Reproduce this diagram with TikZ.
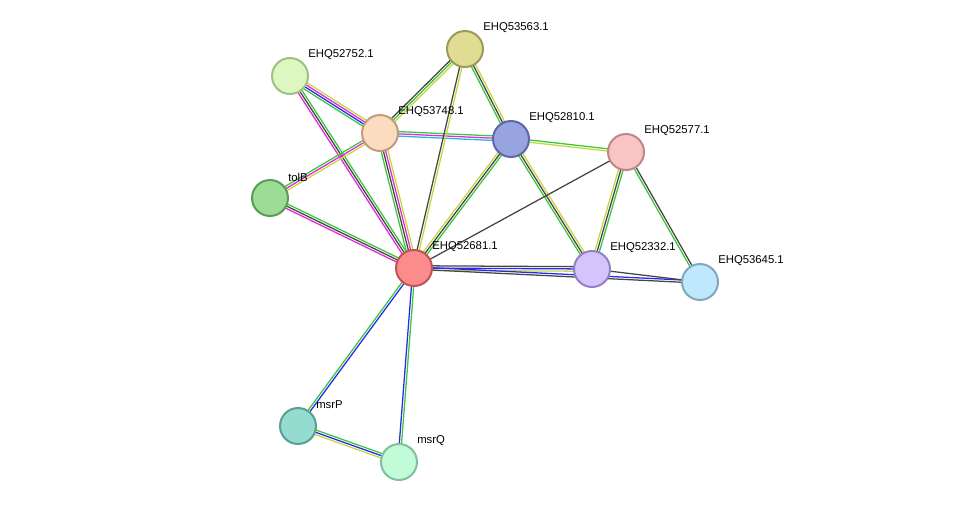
\documentclass[tikz,border=0pt]{standalone}
\usepackage{fontspec}
\setmainfont{Liberation Sans}
\usetikzlibrary{calc,backgrounds}
\definecolor{EGreen}{HTML}{3CC63C}
\definecolor{EBlue}{HTML}{2828EE}
\definecolor{EMagenta}{HTML}{DD2ADD}
\definecolor{EYellow}{HTML}{C6D640}
\definecolor{ECyan}{HTML}{2AB6D8}
\definecolor{EBlack}{HTML}{454545}
% node fills and borders
\definecolor{F53563}{HTML}{E0DC94}\definecolor{B53563}{HTML}{9C9A5C}
\definecolor{F52752}{HTML}{DCF8C0}\definecolor{B52752}{HTML}{A0C084}
\definecolor{F53748}{HTML}{FCDCC0}\definecolor{B53748}{HTML}{C09C7C}
\definecolor{F52810}{HTML}{98A4E0}\definecolor{B52810}{HTML}{5C68A8}
\definecolor{F52577}{HTML}{F8C4C4}\definecolor{B52577}{HTML}{BC8888}
\definecolor{FtolB}{HTML}{9CDC94}\definecolor{BtolB}{HTML}{5C9C58}
\definecolor{F52681}{HTML}{FC8C8C}\definecolor{B52681}{HTML}{C05454}
\definecolor{F52332}{HTML}{D4C4FC}\definecolor{B52332}{HTML}{9480C4}
\definecolor{F53645}{HTML}{C0E8FC}\definecolor{B53645}{HTML}{80A8C0}
\definecolor{FmsrP}{HTML}{94DCD0}\definecolor{BmsrP}{HTML}{58A094}
\definecolor{FmsrQ}{HTML}{C0FCD8}\definecolor{BmsrQ}{HTML}{80C09C}

\tikzset{
  prot/.style={circle, minimum size=27pt, inner sep=0pt, line width=1.5pt, fill=F#1, draw=B#1},
  plabel/.style={anchor=west, font=\fontsize{8.5pt}{10pt}\selectfont, inner sep=0pt}
}

% parallel coloured lines between two nodes: nodes, count, colours
\newcommand{\link}[4]{%
  \foreach \c [count=\i] in {#4} {
    \draw[\c, line width=0.95pt] let \p1=($(#2)-(#1)$), \n1={atan2(\y1,\x1)+90}, \n2={(\i-(#3+1)/2)*1.7}
      in ($(#1)+(\n1:\n2 pt)$) -- ($(#2)+(\n1:\n2 pt)$);
  }}

\begin{document}
\begin{tikzpicture}[x=0.75pt, y=-0.75pt]
  \useasboundingbox (0,0) rectangle (975,508);
  % proteins
  \node[prot=53563] (n53563) at (465,49) {};
  \node[prot=52752] (n52752) at (290,76) {};
  \node[prot=53748] (n53748) at (380,133) {};
  \node[prot=52810] (n52810) at (511,139) {};
  \node[prot=52577] (n52577) at (626,152) {};
  \node[prot=tolB] (tolB) at (270,198) {};
  \node[prot=52681] (n52681) at (414,268) {};
  \node[prot=52332] (n52332) at (592,269) {};
  \node[prot=53645] (n53645) at (700,282) {};
  \node[prot=msrP] (msrP) at (298,426) {};
  \node[prot=msrQ] (msrQ) at (399,462) {};
  % labels
  \foreach \n/\t in {n53563/EHQ53563.1, n52752/EHQ52752.1, n53748/EHQ53748.1,
      n52810/EHQ52810.1, n52577/EHQ52577.1, tolB/tolB, n52681/EHQ52681.1,
      n52332/EHQ52332.1, n53645/EHQ53645.1, msrP/msrP, msrQ/msrQ}
    \node[plabel] at ($(\n)+(18,-21)$) {\t};
  % interactions
  \begin{scope}[on background layer]
    \link{n52752}{n53748}{4}{EGreen,EBlue,EMagenta,EYellow}
    \link{n52752}{n52681}{3}{EMagenta,EBlack,EGreen}
    \link{n53748}{n52681}{4}{EGreen,EBlack,EMagenta,EYellow}
    \link{n53748}{n53563}{3}{EYellow,EGreen,EBlack}
    \link{n53748}{n52810}{3}{ECyan,EMagenta,EGreen}
    \link{n53748}{tolB}{3}{EGreen,EMagenta,EYellow}
    \link{tolB}{n52681}{3}{EMagenta,EBlack,EGreen}
    \link{n53563}{n52681}{2}{EBlack,EYellow}
    \link{n53563}{n52810}{3}{EGreen,EBlack,EYellow}
    \link{n52810}{n52681}{3}{EYellow,EBlack,EGreen}
    \link{n52810}{n52577}{2}{EYellow,EGreen}
    \link{n52810}{n52332}{3}{EGreen,EBlack,EYellow}
    \link{n52577}{n52681}{1}{EBlack}
    \link{n52577}{n52332}{3}{EYellow,EBlack,EGreen}
    \link{n52577}{n53645}{2}{EGreen,EBlack}
    \link{n52681}{n52332}{3}{EYellow,EBlue,EBlack}
    \link{n52681}{n53645}{2}{EBlack,EBlue}
    \link{n52332}{n53645}{1}{EBlack}
    \link{n52681}{msrP}{2}{EGreen,EBlue}
    \link{n52681}{msrQ}{2}{EBlue,EGreen}
    \link{msrP}{msrQ}{3}{EYellow,EBlue,EGreen}
  \end{scope}
\end{tikzpicture}
\end{document}
